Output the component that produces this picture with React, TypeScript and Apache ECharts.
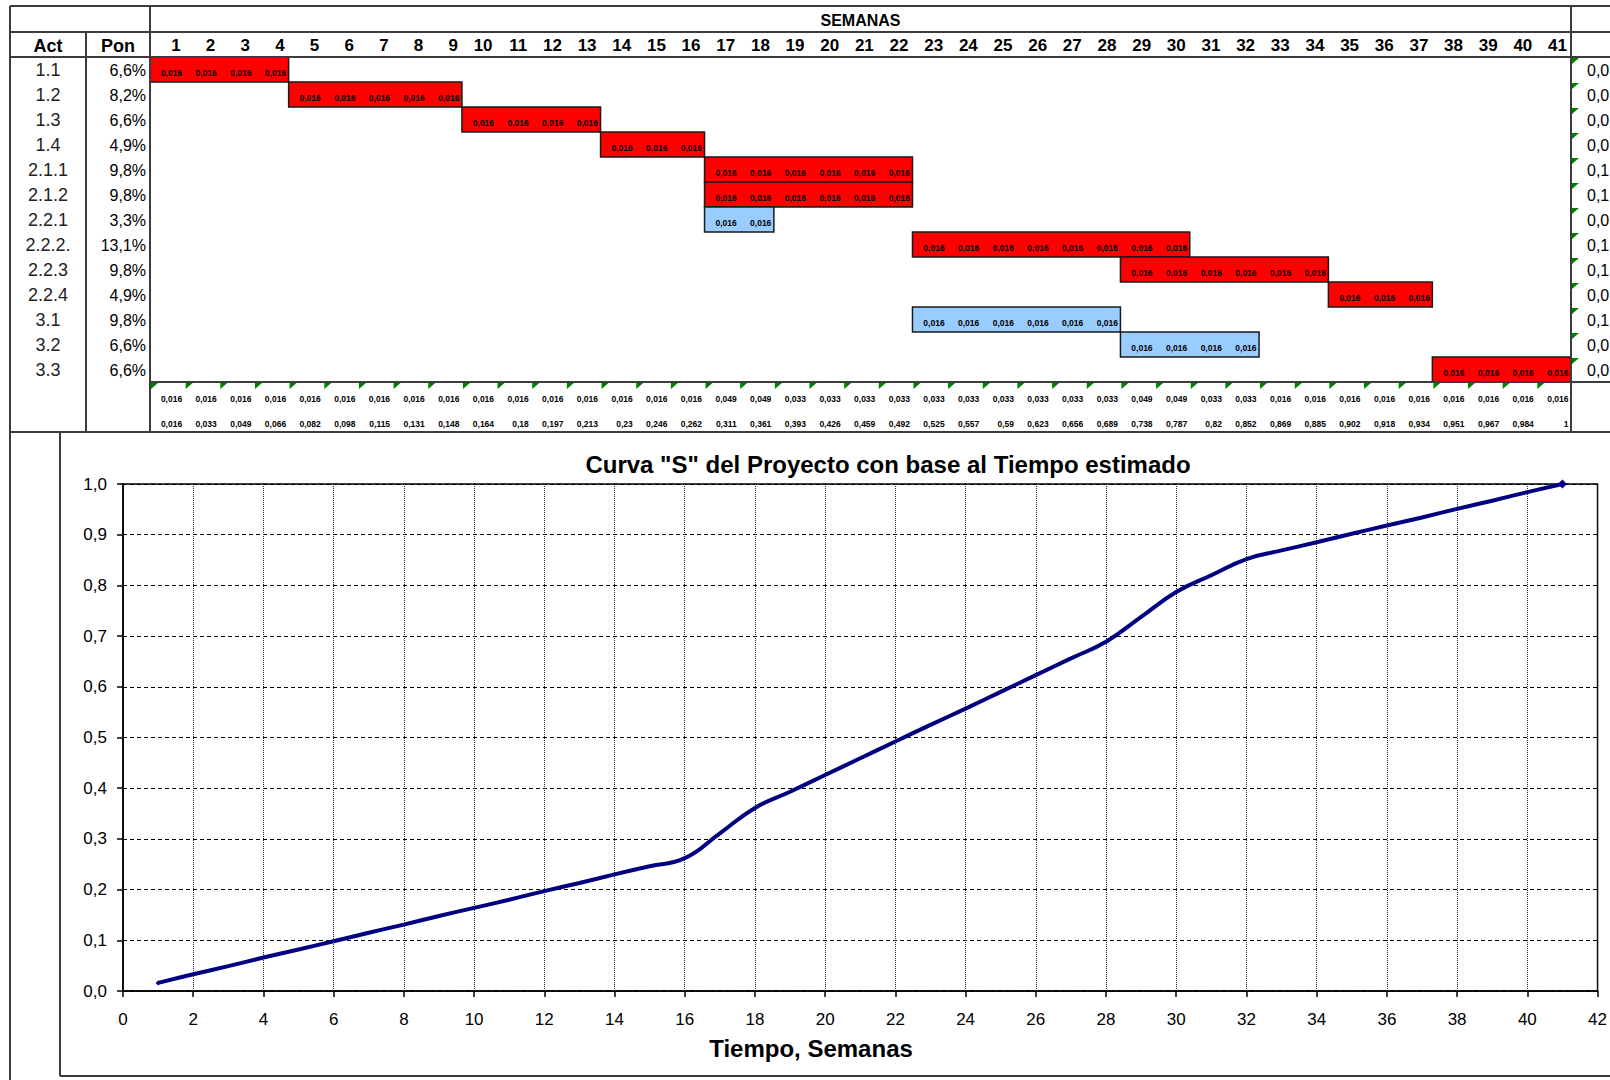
import React, { useEffect, useRef } from "react";
import * as echarts from "echarts";

// ---------------- data ----------------
const weeks = [1, 2, 3, 4, 5, 6, 7, 8, 9, 10, 11, 12, 13, 14, 15, 16, 17, 18, 19, 20, 21, 22, 23, 24, 25, 26, 27, 28, 29, 30, 31, 32, 33, 34, 35, 36, 37, 38, 39, 40, 41];
const activities = ["1.1", "1.2", "1.3", "1.4", "2.1.1", "2.1.2", "2.2.1", "2.2.2.", "2.2.3", "2.2.4", "3.1", "3.2", "3.3"];
const ponderacion = [6.6, 8.2, 6.6, 4.9, 9.8, 9.8, 3.3, 13.1, 9.8, 4.9, 9.8, 6.6, 6.6];
const rightColumnVisible = ["0,0", "0,0", "0,0", "0,0", "0,1", "0,1", "0,0", "0,1", "0,1", "0,0", "0,1", "0,0", "0,0"];
const startWeek = [1, 5, 10, 14, 17, 17, 17, 23, 29, 35, 23, 29, 38];
const endWeek = [4, 9, 13, 16, 22, 22, 18, 30, 34, 37, 28, 32, 41];
const critical = [1, 1, 1, 1, 1, 1, 0, 1, 1, 1, 0, 0, 1];
const weeklyShare = [0.016, 0.016, 0.016, 0.016, 0.016, 0.016, 0.016, 0.016, 0.016, 0.016, 0.016, 0.016, 0.016];
const weeklyProgress = [0.016, 0.016, 0.016, 0.016, 0.016, 0.016, 0.016, 0.016, 0.016, 0.016, 0.016, 0.016, 0.016, 0.016, 0.016, 0.016, 0.049, 0.049, 0.033, 0.033, 0.033, 0.033, 0.033, 0.033, 0.033, 0.033, 0.033, 0.033, 0.049, 0.049, 0.033, 0.033, 0.016, 0.016, 0.016, 0.016, 0.016, 0.016, 0.016, 0.016, 0.016];
const cumulativeProgress = [0.016, 0.033, 0.049, 0.066, 0.082, 0.098, 0.115, 0.131, 0.148, 0.164, 0.18, 0.197, 0.213, 0.23, 0.246, 0.262, 0.311, 0.361, 0.393, 0.426, 0.459, 0.492, 0.525, 0.557, 0.59, 0.623, 0.656, 0.689, 0.738, 0.787, 0.82, 0.852, 0.869, 0.885, 0.902, 0.918, 0.934, 0.951, 0.967, 0.984, 1];

const chartTitle = 'Curva "S" del Proyecto con base al Tiempo estimado';
const xAxisTitle = "Tiempo, Semanas";

// ---------------- layout ----------------
const FONT = "'Liberation Sans', Arial, sans-serif";
const LINE = "#3c3c3c";
const T_LEFT = 10, ACT_RIGHT = 86, PON_RIGHT = 150, WEEKS_RIGHT = 1571;
const T_TOP = 6, SEM_BOTTOM = 32, HEAD_BOTTOM = 57, ROW_H = 25;
const DATA_BOTTOM = HEAD_BOTTOM + ROW_H * 13;
const T_BOTTOM = DATA_BOTTOM + ROW_H * 2;

const fmt3 = (v: number) => String(Number(v.toFixed(3))).replace(".", ",");
const fmtPon = (v: number) => v.toFixed(1).replace(".", ",") + "%";

const smallText = (text: string, x: number, y: number) => ({
  type: "text",
  x,
  y,
  style: { text, fill: "#000", font: `bold 8.5px ${FONT}`, textAlign: "right", textVerticalAlign: "middle" },
});
const tri = (x: number, y: number) => ({
  type: "polygon",
  shape: { points: [[x + 1, y + 1], [x + 8, y + 1], [x + 1, y + 7]] },
  style: { fill: "#008000" },
});

function hline(x1: number, x2: number, y: number, w = 2) {
  return { type: "line", shape: { x1, y1: y, x2, y2: y }, style: { stroke: LINE, lineWidth: w }, z: 20 };
}
function vline(x: number, y1: number, y2: number, w = 2) {
  return { type: "line", shape: { x1: x, y1, x2: x, y2 }, style: { stroke: LINE, lineWidth: w }, z: 20 };
}

export default function App() {
  const ref = useRef<HTMLDivElement>(null);
  useEffect(() => {
    document.body.style.margin = "0";
    document.body.style.overflow = "hidden";
    const chart = echarts.init(ref.current!, null, { renderer: "svg" });
    const lastIdx = weeks.length - 1;

    const option: any = {
      animation: false,
      backgroundColor: "#fff",
      grid: [
        { left: PON_RIGHT, top: HEAD_BOTTOM, width: WEEKS_RIGHT - PON_RIGHT, height: ROW_H * 13, show: false },
        { left: 123, top: 484, width: 1480, height: 507, show: true, borderColor: "#000", borderWidth: 1.5, backgroundColor: "transparent" },
      ],
      xAxis: [
        { gridIndex: 0, type: "value", min: 0, max: 41, show: false },
        {
          gridIndex: 1, type: "value", min: 0, max: 42, interval: 2,
          axisLine: { show: true, lineStyle: { color: "#000", width: 1.5 } },
          axisTick: { show: true, length: 6, lineStyle: { color: "#000", width: 1.5 } },
          axisLabel: { color: "#000", fontSize: 17, fontFamily: FONT, margin: 20 },
          splitLine: { show: true, lineStyle: { color: "#222", width: 1, type: [1, 1] } },
        },
      ],
      yAxis: [
        { gridIndex: 0, type: "value", min: 0, max: 13, inverse: true, show: false },
        {
          gridIndex: 1, type: "value", min: 0, max: 1, interval: 0.1,
          axisLine: { show: true, lineStyle: { color: "#000", width: 1.5 } },
          axisTick: { show: true, length: 6, lineStyle: { color: "#000", width: 1.5 } },
          axisLabel: { color: "#000", fontSize: 17, fontFamily: FONT, margin: 16, formatter: (v: number) => v.toFixed(1).replace(".", ",") },
          splitLine: { show: true, lineStyle: { color: "#000", width: 1, type: [4, 3] } },
        },
      ],
      graphic: [
        hline(T_LEFT, 1610, T_TOP),
        hline(T_LEFT, 1610, SEM_BOTTOM),
        hline(T_LEFT, 1610, HEAD_BOTTOM),
        hline(PON_RIGHT, 1610, DATA_BOTTOM),
        hline(T_LEFT, 1610, T_BOTTOM),
        vline(T_LEFT, T_TOP, 1080),
        vline(ACT_RIGHT, SEM_BOTTOM, T_BOTTOM),
        vline(PON_RIGHT, T_TOP, T_BOTTOM),
        vline(WEEKS_RIGHT, T_TOP, T_BOTTOM),
        vline(60, T_BOTTOM, 1076),
        hline(60, 1610, 1076),
        { type: "text", x: (PON_RIGHT + WEEKS_RIGHT) / 2, y: (T_TOP + SEM_BOTTOM) / 2 + 1, style: { text: "SEMANAS", fill: "#000", font: `bold 16px ${FONT}`, textAlign: "center", textVerticalAlign: "middle" } },
        { type: "text", x: (T_LEFT + ACT_RIGHT) / 2, y: (SEM_BOTTOM + HEAD_BOTTOM) / 2 + 1, style: { text: "Act", fill: "#000", font: `bold 18px ${FONT}`, textAlign: "center", textVerticalAlign: "middle" } },
        { type: "text", x: (ACT_RIGHT + PON_RIGHT) / 2, y: (SEM_BOTTOM + HEAD_BOTTOM) / 2 + 1, style: { text: "Pon", fill: "#000", font: `bold 18px ${FONT}`, textAlign: "center", textVerticalAlign: "middle" } },
        { type: "text", x: 888, y: 464, style: { text: chartTitle, fill: "#000", font: `bold 24px ${FONT}`, textAlign: "center", textVerticalAlign: "middle" } },
        { type: "text", x: 811, y: 1048, style: { text: xAxisTitle, fill: "#000", font: `bold 24px ${FONT}`, textAlign: "center", textVerticalAlign: "middle" } },
      ],
      series: [
        // week number header
        {
          type: "custom", xAxisIndex: 0, yAxisIndex: 0, clip: false, silent: true,
          data: weeks.map((w) => [w, -0.5]),
          renderItem: (params: any, api: any) => {
            const p = api.coord([api.value(0), api.value(1)]);
            return { type: "text", x: p[0] - 4, y: p[1] + 1, style: { text: String(api.value(0)), fill: "#000", font: `bold 17px ${FONT}`, textAlign: "right", textVerticalAlign: "middle" } };
          },
        },
        // activity / ponderation / weight columns
        {
          type: "custom", xAxisIndex: 0, yAxisIndex: 0, clip: false, silent: true,
          data: activities.map((a, i) => [41, i]),
          renderItem: (params: any, api: any) => {
            const i = params.dataIndex;
            const mid = api.coord([0, i + 0.5])[1];
            const top = api.coord([api.value(0), i]);
            return {
              type: "group",
              children: [
                { type: "text", x: (T_LEFT + ACT_RIGHT) / 2, y: mid, style: { text: activities[i], fill: "#222", font: `18px ${FONT}`, textAlign: "center", textVerticalAlign: "middle" } },
                { type: "text", x: PON_RIGHT - 4, y: mid + 1, style: { text: fmtPon(ponderacion[i]), fill: "#000", font: `16px ${FONT}`, textAlign: "right", textVerticalAlign: "middle" } },
                { type: "text", x: top[0] + 16, y: mid + 1, style: { text: rightColumnVisible[i], fill: "#000", font: `16px ${FONT}`, textAlign: "left", textVerticalAlign: "middle" } },
                tri(top[0], top[1]),
              ],
            };
          },
        },
        // gantt bars
        {
          type: "custom", xAxisIndex: 0, yAxisIndex: 0, clip: false, silent: true,
          data: activities.map((a, i) => [startWeek[i], i, endWeek[i], critical[i], weeklyShare[i]]),
          renderItem: (params: any, api: any) => {
            const s = api.value(0), r = api.value(1), e = api.value(2), c = api.value(3), v = api.value(4);
            const p0 = api.coord([s - 1, r]);
            const p1 = api.coord([e, r + 1]);
            const children: any[] = [
              { type: "rect", shape: { x: p0[0], y: p0[1], width: p1[0] - p0[0], height: p1[1] - p0[1] }, style: { fill: c ? "#FF0000" : "#99CCFF", stroke: "#1a1a1a", lineWidth: 1.5 } },
            ];
            for (let w = s; w <= e; w++) {
              const pt = api.coord([w, r + 1]);
              children.push(smallText(fmt3(v), pt[0] - 2.5, pt[1] - 9));
            }
            return { type: "group", children };
          },
        },
        // summary rows
        {
          type: "custom", xAxisIndex: 0, yAxisIndex: 0, clip: false, silent: true,
          data: weeks.map((w, i) => [w, 13, weeklyProgress[i], cumulativeProgress[i]]),
          renderItem: (params: any, api: any) => {
            const w = api.value(0), r = api.value(1);
            const t = api.coord([w - 1, r]);
            const a = api.coord([w, r + 1]);
            const b = api.coord([w, r + 2]);
            return {
              type: "group",
              children: [
                tri(t[0], t[1]),
                smallText(fmt3(api.value(2)), a[0] - 2.5, a[1] - 8),
                smallText(fmt3(api.value(3)), b[0] - 2.5, b[1] - 8),
              ],
            };
          },
        },
        // S curve
        {
          type: "line", xAxisIndex: 1, yAxisIndex: 1,
          data: weeks.map((w, i) => [w, cumulativeProgress[i]]),
          smooth: 0.45,
          symbol: "diamond",
          symbolSize: (val: any, params: any) => (params.dataIndex === lastIdx ? 9 : params.dataIndex === 0 ? 5 : 0),
          lineStyle: { color: "#000080", width: 4 },
          itemStyle: { color: "#000080" },
          z: 5,
        },
      ],
    };
    chart.setOption(option);
    return () => chart.dispose();
  }, []);
  return <div ref={ref} style={{ position: "absolute", left: 0, top: 0, width: 1610, height: 1080 }} />;
}
